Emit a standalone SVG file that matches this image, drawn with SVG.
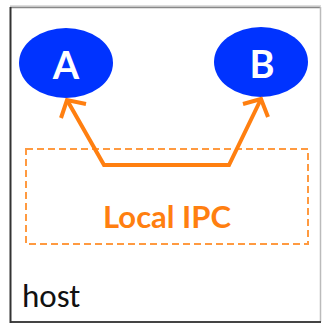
<svg xmlns="http://www.w3.org/2000/svg" width="322" height="324" viewBox="0 0 322 324">
<style>
.node{fill:#0033FF}
.lbl{font-family:"Century Gothic","URW Gothic","Lato","Liberation Sans",sans-serif;font-weight:bold;fill:#fff;text-anchor:middle}
.conn{fill:none;stroke:#FF7F10;stroke-width:4;stroke-linejoin:miter;stroke-linecap:butt}
</style>
<rect width="322" height="324" fill="#fff"/>
<g id="host">
<line x1="10" y1="6" x2="321" y2="6" stroke="#ddd" stroke-width="2"/>
<line x1="10" y1="7.5" x2="320" y2="7.5" stroke="#888" stroke-width="1.5"/>
<line x1="320.5" y1="7" x2="320.5" y2="322" stroke="#bbb" stroke-width="1.5"/>
<line x1="10" y1="322" x2="321" y2="322" stroke="#444" stroke-width="2"/>
<line x1="10.5" y1="7" x2="10.5" y2="323" stroke="#333" stroke-width="2"/>
<text x="22" y="307" font-family="Carlito,'Liberation Sans',sans-serif" font-size="33" fill="#111">host</text>
</g>
<g id="ipc">
<rect x="26" y="149" width="282" height="95" fill="none" stroke="#FF9A40" stroke-width="2" stroke-dasharray="7,4"/>
<text x="167" y="228" font-family="Lato,'Liberation Sans',sans-serif" font-weight="bold" font-size="31" fill="#FF7F10" text-anchor="middle">Local IPC</text>
</g>
<g id="A">
<ellipse class="node" cx="66" cy="63" rx="47" ry="35"/>
<text class="lbl" x="66" y="79" font-size="38">A</text>
</g>
<g id="B">
<ellipse class="node" cx="261" cy="62" rx="47" ry="35"/>
<text class="lbl" x="262" y="78" font-size="38">B</text>
</g>
<g id="connectors">
<polyline class="conn" points="67,100 104,165 229,165 261,99"/>
<polyline class="conn" points="61,118 67,100 86,104"/>
<polyline class="conn" points="243,104 261,99 268,117"/>
</g>
</svg>
